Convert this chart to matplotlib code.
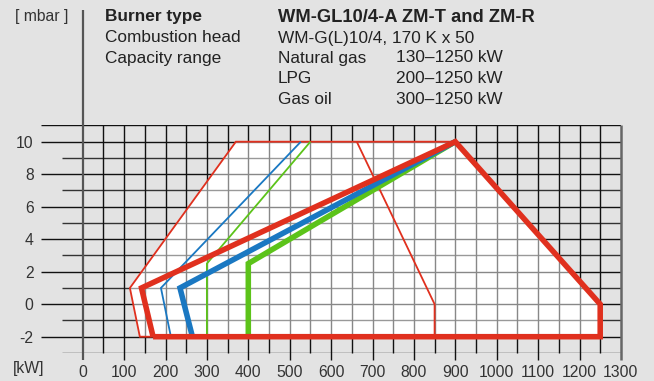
import matplotlib
matplotlib.use("Agg")
import matplotlib.pyplot as plt
import numpy as np

# ---- data (kW, mbar) ----
red_thin_left_x = [850, 138, 114, 370, 900]
red_thin_left_y = [-2, -2, 1, 10, 10]
red_thin_right_x = [662, 850, 850]
red_thin_right_y = [10, 0, -2]
red_thick_x = [170, 142, 900, 1250, 1250, 170]
red_thick_y = [-2, 1, 10, 0, -2, -2]
blue_thin_x = [213, 189, 527]
blue_thin_y = [-2, 1, 10]
blue_thick_x = [265, 235, 900]
blue_thick_y = [-2, 1, 10]
green_thin_x = [300, 300, 550]
green_thin_y = [-2, 2.5, 10]
green_thick_x = [400, 400, 900]
green_thick_y = [-2, 2.5, 10]
area_x = [138, 114, 370, 900, 1250, 1250]
area_y = [-2, 1, 10, 10, 0, -2]

x_ticks = list(range(0, 1301, 100))
y_ticks = [-2, 0, 2, 4, 6, 8, 10]

header_rows = [
    ("Burner type", "WM-GL10/4-A ZM-T and ZM-R", None),
    ("Combustion head", "WM-G(L)10/4, 170 K x 50", None),
    ("Capacity range", "Natural gas", "130\u20131250 kW"),
    ("", "LPG", "200\u20131250 kW"),
    ("", "Gas oil", "300\u20131250 kW"),
]

RED = "#e0301e"
BLUE = "#1a78c2"
GREEN = "#5cc31a"
BG = "#e3e3e3"

plt.rcParams['font.family'] = ['Liberation Sans', 'DejaVu Sans']

W, H = 654, 381
fig = plt.figure(figsize=(W / 100, H / 100), dpi=100, facecolor=BG)

def fx(px):
    return px / W

def fy(py):
    return 1 - py / H

x0, x1 = 41.3, 620.9
y_top, y_bot = 125.45, 352.95
ax = fig.add_axes([fx(x0), fy(y_bot), fx(x1) - fx(x0), fy(y_top) - fy(y_bot)])
ax.set_xlim(-100, 1300)
ax.set_ylim(-3, 11)
ax.set_facecolor("none")
for s in ax.spines.values():
    s.set_visible(False)

# white area
ax.fill(area_x, area_y, color="white", lw=0, zorder=1)

# grid
gl = 1.0
for y in range(-3, 12):
    if y % 2 == 0 or y == 11:
        ax.hlines(y, -100, 1300, color="#111111", lw=gl, zorder=2)
    else:
        ax.hlines(y, -50, 1300, color="#333333", lw=gl, zorder=2)
for x in range(0, 1301, 50):
    if x in (0, 1300):
        continue
    ybot = -3.45 if x % 100 == 0 else -3
    ax.vlines(x, ybot, 11, color="#111111", lw=gl, zorder=2, clip_on=False)
ax.vlines(0, -3.45, 18.1, color="#555555", lw=1.6, zorder=2, clip_on=False)
ax.vlines(1300, -3.45, 11, color="#666666", lw=1.8, zorder=2, clip_on=False)

# lighten grid inside the area
ax.fill(area_x, area_y, color="white", alpha=0.5, lw=0, zorder=3)

thin = 1.3
thick = 4.0
kw = dict(solid_joinstyle="miter", solid_capstyle="butt", clip_on=False)
ax.plot(red_thin_left_x, red_thin_left_y, color=RED, lw=thin, zorder=4, **kw)
ax.plot(red_thin_right_x, red_thin_right_y, color=RED, lw=thin, zorder=4, **kw)
ax.plot(blue_thin_x, blue_thin_y, color=BLUE, lw=thin, zorder=4, **kw)
ax.plot(green_thin_x, green_thin_y, color=GREEN, lw=thin, zorder=4, **kw)
ax.plot(green_thick_x, green_thick_y, color=GREEN, lw=thick, zorder=5, **kw)
ax.plot(blue_thick_x, blue_thick_y, color=BLUE, lw=thick, zorder=6, **kw)
ax.plot(red_thick_x, red_thick_y, color=RED, lw=thick, zorder=7, **kw)

ax.set_xticks(x_ticks)
ax.set_xticklabels([str(v) for v in x_ticks])
ax.set_yticks(y_ticks)
ax.set_yticklabels([str(v) for v in y_ticks])
ax.tick_params(length=0, labelsize=11.3, colors="#333333")
ax.tick_params(axis="y", pad=5.5)
ax.tick_params(axis="x", pad=9)

fig.text(fx(29), fy(369), "[kW]", fontsize=11.3, color="#333333", ha="center", va="center")
fig.text(fx(42), fy(17), "[ mbar ]", fontsize=11.3, color="#333333", ha="center", va="center")

row_y = [17, 38, 58, 78.5, 99]
fs = 12.4
for (a, b, c), ry in zip(header_rows, row_y):
    is_bold = a == "Burner type"
    bold = "bold" if is_bold else "normal"
    if a:
        fig.text(fx(105), fy(ry), a, fontsize=fs, fontweight=bold, color="#222222", va="center")
    fig.text(fx(278), fy(ry), b, fontsize=(13.2 if is_bold else fs), fontweight=bold,
             color="#222222", va="center")
    if c:
        fig.text(fx(503), fy(ry), c, fontsize=fs, color="#222222", va="center", ha="right")

fig.savefig("out.png", dpi=100, facecolor=BG)
